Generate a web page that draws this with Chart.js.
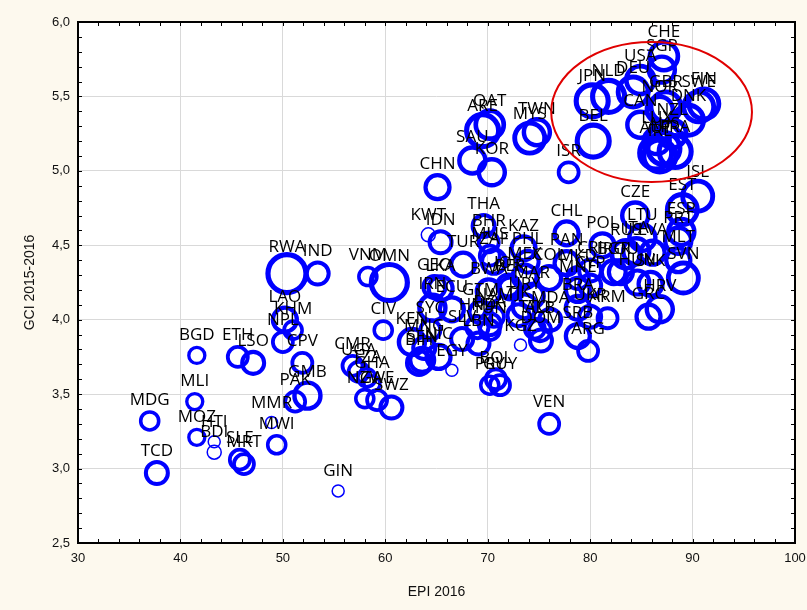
<!DOCTYPE html>
<html><head><meta charset="utf-8">
<script src="https://cdn.jsdelivr.net/npm/chart.js@4/dist/chart.umd.min.js"></script>
<style>
html,body{margin:0;padding:0;background:#fdf9ee;}
#wrap{width:807px;height:610px;}
</style></head><body>
<div id="wrap"><canvas id="c" width="807" height="610"></canvas></div>
<script>
const codes = ["MDG","TCD","BGD","MLI","MOZ","HTI","BDI","SLE","MRT","ETH","LSO","MMR","MWI","PAK","GMB","CPV","NPL","KHM","LAO","RWA","IND","GIN","VNM","OMN","CIV","CMR","UGA","TZA","GHA","NGA","ZWE","SWZ","KEN","SYC","MNG","SEN","BIH","NIC","EGY","GEO","LKA","IRN","IDN","KWT","CHN","TUR","THA","BHR","MUS","ZAF","ECU","GTM","HND","DZA","TUN","NAM","BWA","SLV","LBN","PRY","BOL","GUY","JOR","PER","TJK","KGZ","KAZ","PHL","MEX","MAR","URY","TTO","ALB","DOM","MDA","COL","VEN","CHL","PAN","MKD","MNE","BRA","SRB","UKR","ARG","CRI","CYP","ARM","POL","BGR","ROU","RUS","ITA","CZE","LTU","LVA","HUN","SVK","GRC","HRV","SVN","MLT","PRT","ESP","EST","ISL","ISR","KOR","SAU","ARE","QAT","MYS","TWN","BEL","JPN","NLD","DEU","USA","SGP","CHE","CAN","NOR","GBR","NZL","DNK","SWE","FIN","LUX","AUS","AUT","FRA","IRL"];
const epi = [37.0,37.7,41.6,41.4,41.6,43.3,43.3,45.8,46.2,45.6,47.1,48.9,49.4,51.2,52.4,51.9,50.0,51.0,50.2,50.4,53.4,55.4,58.3,60.4,59.8,56.8,57.4,58.2,58.7,58.0,59.2,60.6,62.6,64.4,63.8,63.6,63.3,65.2,66.5,64.8,65.4,64.6,65.4,64.2,65.1,67.6,69.6,70.1,70.2,70.6,66.5,69.3,69.0,70.2,70.2,70.6,70.1,67.5,69.1,70.2,70.8,71.2,72.0,72.2,73.0,73.2,73.5,73.9,73.6,74.3,73.6,74.6,75.1,75.2,76.1,76.0,76.0,77.7,77.7,78.8,78.8,78.8,78.8,80.0,79.8,80.0,80.0,81.7,81.2,82.3,83.0,83.5,84.5,84.4,85.1,86.1,84.6,85.9,85.7,86.8,89.1,88.6,88.6,88.9,89.0,90.5,77.9,70.4,68.5,69.5,70.2,74.1,74.8,80.3,80.2,81.8,84.2,84.9,87.0,87.2,84.9,86.8,87.4,88.0,89.6,90.6,91.1,86.5,87.2,86.4,88.3,86.8];
const gci = [3.32,2.97,3.76,3.45,3.21,3.18,3.11,3.06,3.03,3.75,3.71,3.31,3.16,3.45,3.49,3.71,3.85,3.93,4.00,4.31,4.31,2.85,4.29,4.25,3.93,3.69,3.65,3.61,3.57,3.47,3.46,3.41,3.85,3.93,3.81,3.73,3.71,3.75,3.66,4.22,4.21,4.08,4.52,4.57,4.89,4.37,4.63,4.52,4.43,4.39,4.07,4.05,3.95,3.97,3.93,4.02,4.19,3.87,3.84,3.56,3.60,3.56,4.23,4.21,4.03,3.83,4.48,4.39,4.29,4.16,4.09,3.94,3.93,3.86,4.00,4.28,3.30,4.58,4.38,4.28,4.20,4.08,3.89,4.02,3.79,4.33,4.23,4.01,4.50,4.32,4.32,4.44,4.46,4.70,4.55,4.45,4.25,4.24,4.02,4.07,4.28,4.40,4.53,4.59,4.74,4.83,4.99,4.99,5.07,5.27,5.31,5.22,5.26,5.20,5.47,5.50,5.53,5.61,5.68,5.77,5.31,5.41,5.43,5.25,5.34,5.43,5.45,5.20,5.15,5.12,5.13,5.10];
const magnitude = [9,11,8,8,8,6,7,10,10,10,11,6,9,10,13,10,10,9,12,19,11,6,9,18,9,10,10,9,8,9,10,11,13,10,11,12,12,12,6,11,12,13,11,7,12,12,11,10,10,12,12,11,11,11,10,10,12,11,11,9,10,10,11,11,11,6,12,11,12,12,12,10,11,11,11,12,10,12,12,11,12,12,12,11,10,11,11,10,12,12,12,14,13,13,13,12,12,12,12,13,15,12,13,13,15,15,10,13,13,16,14,15,13,16,16,16,15,14,13,14,13,13,15,14,15,15,15,13,16,16,16,16];
const xTickValues = [30,40,50,60,70,80,90,100];
const yTickValues = [2.5,3.0,3.5,4.0,4.5,5.0,5.5,6.0];
const highlightCenter = {x: 86.0, y: 5.395};
const highlightRadius = {x: 9.8, y: 0.47};

const points = codes.map((c,i)=>({x: epi[i], y: gci[i], r: magnitude[i], label: c}));

const bgPlugin = {
  id:'bg',
  beforeDraw(chart){
    const {ctx, chartArea:a} = chart;
    ctx.save();
    ctx.fillStyle = '#fdf9ee';
    ctx.fillRect(0,0,chart.width,chart.height);
    ctx.fillStyle = '#ffffff';
    ctx.fillRect(a.left,a.top,a.right-a.left,a.bottom-a.top);
    ctx.restore();
  }
};

const overlayPlugin = {
  id:'overlay',
  afterDatasetsDraw(chart){
    const {ctx, chartArea:a, scales} = chart;
    const xs = scales.x, ys = scales.y;
    const meta = chart.getDatasetMeta(0);
    ctx.save();
    ctx.font = '17px "Open Sans", sans-serif';
    ctx.fillStyle = '#000';
    ctx.textAlign = 'center';
    ctx.textBaseline = 'middle';
    meta.data.forEach((el,i)=>{
      const r = points[i].r;
      ctx.fillText(points[i].label, el.x, el.y - (16 + 0.55*r));
    });
    const cx = xs.getPixelForValue(highlightCenter.x);
    const cy = ys.getPixelForValue(highlightCenter.y);
    const rx = Math.abs(xs.getPixelForValue(highlightCenter.x + highlightRadius.x) - cx);
    const ry = Math.abs(ys.getPixelForValue(highlightCenter.y + highlightRadius.y) - cy);
    ctx.beginPath();
    ctx.ellipse(cx, cy, rx, ry, 0, 0, Math.PI*2);
    ctx.strokeStyle = '#e00000';
    ctx.lineWidth = 2;
    ctx.stroke();
    ctx.strokeStyle = '#000';
    ctx.lineWidth = 2;
    ctx.strokeRect(a.left, a.top, a.right-a.left, a.bottom-a.top);
    ctx.lineWidth = 1;
    ctx.beginPath();
    for (let v = 30; v <= 100.001; v += 2){
      const px = Math.round(xs.getPixelForValue(v)) + 0.5;
      ctx.moveTo(px, a.bottom); ctx.lineTo(px, a.bottom-4);
      ctx.moveTo(px, a.top); ctx.lineTo(px, a.top+4);
    }
    for (let k = 25; k <= 60; k++){
      const py = Math.round(ys.getPixelForValue(k/10)) + 0.5;
      ctx.moveTo(a.left, py); ctx.lineTo(a.left+4, py);
      ctx.moveTo(a.right, py); ctx.lineTo(a.right-4, py);
    }
    ctx.stroke();
    ctx.restore();
  }
};

new Chart(document.getElementById('c'), {
  type:'bubble',
  data:{datasets:[{
    data: points,
    backgroundColor:'rgba(0,0,0,0)',
    borderColor:'#0000ff',
    borderWidth: ctx => { const r = ctx.raw ? ctx.raw.r : 10; return r < 7.5 ? 1.5 : Math.min(5.2, 1.6 + r*0.22); }
  }]},
  options:{
    responsive:false,
    devicePixelRatio:1,
    animation:false,
    layout:{autoPadding:false, padding:{left:0,right:12,top:22,bottom:0}},
    plugins:{legend:{display:false},tooltip:{enabled:false}},
    scales:{
      x:{
        type:'linear', min:30, max:100,
        afterBuildTicks: s => { s.ticks = xTickValues.map(v=>({value:v})); },
        afterFit: s => { s.height = 67; s.paddingLeft = 0; s.paddingRight = 0; },
        grid:{color:'#d9d9d9', drawTicks:false},
        border:{display:false},
        ticks:{padding:8, color:'#111', font:{family:'"Liberation Sans", Arial, sans-serif', size:13}, maxRotation:0},
        title:{display:true, text:'EPI 2016', color:'#111', font:{family:'"Liberation Sans", Arial, sans-serif', size:14}, padding:{top:0,bottom:9}}
      },
      y:{
        type:'linear', min:2.5, max:6,
        afterBuildTicks: s => { s.ticks = yTickValues.map(v=>({value:v})); },
        afterFit: s => { s.width = 78; s.paddingTop = 0; s.paddingBottom = 0; },
        grid:{color:'#d9d9d9', drawTicks:false},
        border:{display:false},
        ticks:{padding:8, color:'#111', font:{family:'"Liberation Sans", Arial, sans-serif', size:13}, callback: v => v.toFixed(1).replace('.',',')},
        title:{display:true, text:'GCI 2015-2016', color:'#111', font:{family:'"Liberation Sans", Arial, sans-serif', size:14}, padding:{top:22,bottom:0}}
      }
    }
  },
  plugins:[bgPlugin, overlayPlugin]
});
</script>
</body></html>
